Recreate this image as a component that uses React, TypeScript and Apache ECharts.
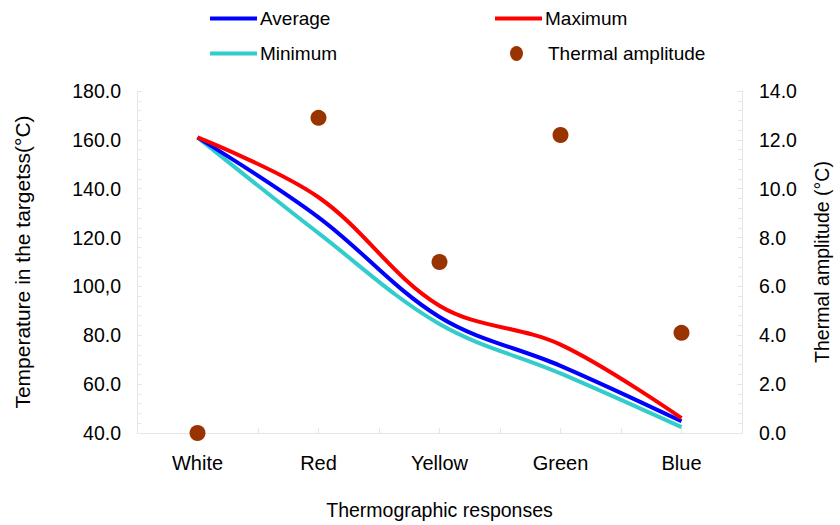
import React, { useEffect, useRef } from "react";
import * as echarts from "echarts";

const categories = ["White", "Red", "Yellow", "Green", "Blue"];
const averageValues = [161.0, 128.3, 87.5, 67.5, 44.8];
const maximumValues = [161.0, 136.5, 92.1, 76.2, 46.1];
const minimumValues = [161.0, 121.8, 84.6, 64.4, 42.4];
const amplitudeValues = [0.0, 12.9, 7.0, 12.2, 4.1];
const leftTickValues = [40, 60, 80, 100, 120, 140, 160, 180];
const leftTickLabels = ["40.0", "60.0", "80.0", "100,0", "120.0", "140.0", "160.0", "180.0"];
const rightTickValues = [0, 2, 4, 6, 8, 10, 12, 14];
const rightTickLabels = ["0.0", "2.0", "4.0", "6.0", "8.0", "10.0", "12.0", "14.0"];

const FONT = "'Liberation Sans', Arial, sans-serif";
const AXIS_GRAY = "#e6e6e6";

export default function App() {
  const ref = useRef<HTMLDivElement>(null);
  useEffect(() => {
    if (!ref.current) return;
    document.body.style.margin = "0";
    const chart = echarts.init(ref.current, null, { renderer: "svg" });
    const legendText = { fontFamily: FONT, fontSize: 19, color: "#000", padding: [0, 0, 0, -2] };
    const mkLegend = (name: string, left: number, top: number, extra: any = {}) => ({
      data: [name],
      left,
      top,
      icon: "rect",
      itemWidth: 47,
      itemHeight: 4,
      itemGap: 0,
      padding: 0,
      selectedMode: false,
      textStyle: { ...legendText },
      ...extra,
    });
    const lineSeries = (name: string, data: number[], color: string) => ({
      name,
      type: "line",
      data,
      smooth: 0.35,
      symbol: "none",
      xAxisIndex: 0,
      yAxisIndex: 0,
      lineStyle: { color, width: 4 },
      itemStyle: { color },
      z: 2,
    });
    chart.setOption({
      animation: false,
      backgroundColor: "#fff",
      textStyle: { fontFamily: FONT },
      legend: [
        mkLegend("Average", 210, 9),
        mkLegend("Maximum", 495, 9),
        mkLegend("Minimum", 210, 44),
        mkLegend("Thermal amplitude", 510, 44, {
          icon: "path://M0,7.5 A6.5,7.5 0 1,0 13,7.5 A6.5,7.5 0 1,0 0,7.5 Z",
          itemWidth: 13,
          itemHeight: 15,
          textStyle: { ...legendText, padding: [0, 0, 0, 20] },
        }),
      ],
      grid: { left: 137, right: 95, top: 91, bottom: 90, containLabel: false },
      xAxis: [
        {
          type: "category",
          data: categories,
          boundaryGap: true,
          name: "Thermographic responses",
          nameLocation: "middle",
          nameGap: 67,
          nameTextStyle: { fontFamily: FONT, fontSize: 19.5, color: "#000" },
          axisLine: { show: true, lineStyle: { color: AXIS_GRAY, width: 1 } },
          axisTick: { show: true, inside: true, length: 5, lineStyle: { color: AXIS_GRAY } },
          axisLabel: { fontFamily: FONT, fontSize: 20, color: "#000", margin: 20 },
          splitLine: { show: false },
        },
        {
          type: "category",
          data: categories,
          boundaryGap: true,
          position: "bottom",
          axisLine: { show: false },
          axisTick: { show: true, inside: true, length: 5, alignWithLabel: true, lineStyle: { color: AXIS_GRAY } },
          axisLabel: { show: false },
          splitLine: { show: false },
        },
      ],
      yAxis: [
        {
          type: "value",
          min: 40,
          max: 180,
          interval: 20,
          position: "left",
          name: "Temperature in the targetss(°C)",
          nameLocation: "middle",
          nameRotate: 90,
          nameGap: 104,
          nameTextStyle: { fontFamily: FONT, fontSize: 21, color: "#000" },
          axisLine: { show: true, lineStyle: { color: AXIS_GRAY, width: 1 } },
          axisTick: { show: true, inside: true, length: 5, lineStyle: { color: AXIS_GRAY } },
          minorTick: { show: true, splitNumber: 5, length: 4, lineStyle: { color: AXIS_GRAY } },
          axisLabel: {
            fontFamily: FONT,
            fontSize: 19.5,
            color: "#000",
            margin: 16,
            formatter: (v: number) => {
              const i = leftTickValues.indexOf(Math.round(v));
              return i >= 0 ? leftTickLabels[i] : "";
            },
          },
          splitLine: { show: false },
        },
        {
          type: "value",
          min: 0,
          max: 14,
          interval: 2,
          position: "right",
          name: "Thermal amplitude (°C)",
          nameLocation: "middle",
          nameRotate: 90,
          nameGap: 70,
          nameTextStyle: { fontFamily: FONT, fontSize: 19.5, color: "#000" },
          axisLine: { show: true, lineStyle: { color: AXIS_GRAY, width: 1 } },
          axisTick: { show: true, inside: true, length: 5, lineStyle: { color: AXIS_GRAY } },
          minorTick: { show: true, splitNumber: 5, length: 4, lineStyle: { color: AXIS_GRAY } },
          axisLabel: {
            fontFamily: FONT,
            fontSize: 19.5,
            color: "#000",
            margin: 17,
            formatter: (v: number) => {
              const i = rightTickValues.indexOf(Math.round(v));
              return i >= 0 ? rightTickLabels[i] : "";
            },
          },
          splitLine: { show: false },
        },
      ],
      series: [
        lineSeries("Minimum", minimumValues, "#33cccc"),
        lineSeries("Average", averageValues, "#0000ff"),
        lineSeries("Maximum", maximumValues, "#ff0000"),
        {
          name: "Thermal amplitude",
          type: "scatter",
          data: amplitudeValues,
          xAxisIndex: 0,
          yAxisIndex: 1,
          symbol: "circle",
          symbolSize: 16,
          itemStyle: { color: "#993300", opacity: 1 },
          z: 3,
        },
      ],
    });
    return () => chart.dispose();
  }, []);
  return <div ref={ref} style={{ width: 840, height: 525 }} />;
}
